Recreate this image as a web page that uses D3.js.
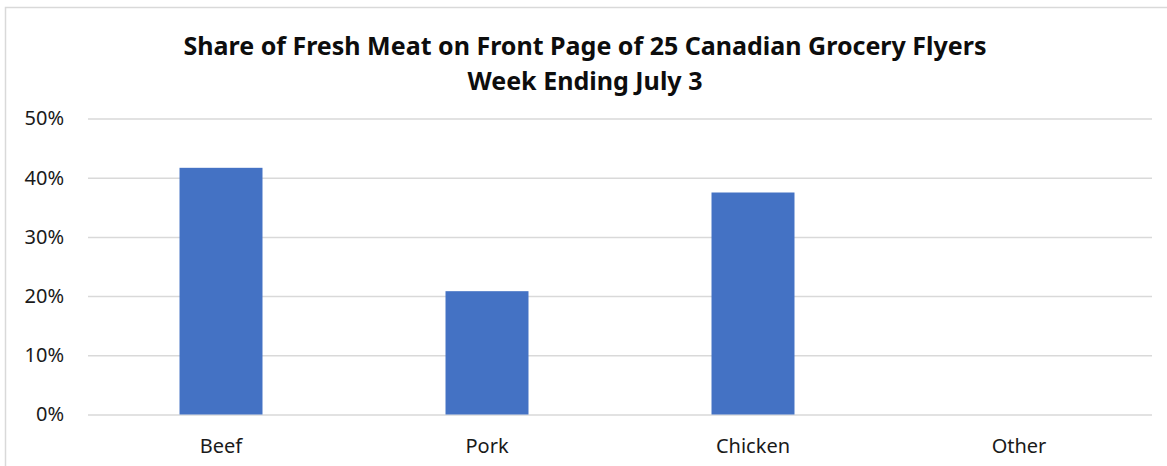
<!DOCTYPE html>
<html>
<head>
<meta charset="utf-8">
<script src="https://cdn.jsdelivr.net/npm/d3@7"></script>
<style>
  body { margin: 0; background: #fff; }
  svg { display: block; font-family: "Noto Sans", "Open Sans", sans-serif; }
</style>
</head>
<body>
<div id="chart"></div>
<script>
// data
const categories = ["Beef", "Pork", "Chicken", "Other"];
const shares = [0.4167, 0.2083, 0.375, 0];
const yTicks = [0, 0.1, 0.2, 0.3, 0.4, 0.5];
const titleLines = ["Share of Fresh Meat on Front Page of 25 Canadian Grocery Flyers", "Week Ending July 3"];

let width = 1167;
let height = 466;
let margin = { top: 118.5, left: 88, bottom: 51.5, right: 15 };
let iwidth = width - margin.left - margin.right;
let iheight = height - margin.top - margin.bottom;

let svg = d3.select("#chart").append("svg")
    .attr("width", width)
    .attr("height", height);

// chart frame (runs off the right/bottom of the window)
svg.append("rect")
    .attr("x", 5.5).attr("y", 7.5)
    .attr("width", 1300).attr("height", 600)
    .attr("fill", "none")
    .attr("stroke", "#d9d9d9")
    .attr("stroke-width", 1.5);

let g = svg.append("g").attr("transform", `translate(${margin.left},${margin.top})`);

let y = d3.scaleLinear()
    .domain([0, 0.5])
    .range([iheight, 0]);

let x = d3.scaleBand()
    .domain(categories)
    .range([0, iwidth])
    .paddingInner(0.688)
    .paddingOuter(0.344);

// gridlines
g.append("g")
    .classed("grid", true)
    .call(d3.axisLeft(y).tickValues(yTicks).tickSize(-iwidth).tickFormat(""))
    .call(a => a.select(".domain").remove())
    .selectAll("line")
    .attr("stroke", "#d9d9d9")
    .attr("stroke-width", 1.5);

// y axis labels
g.append("g")
    .classed("y--axis", true)
    .call(d3.axisLeft(y).tickValues(yTicks).tickSize(0).tickPadding(24).tickFormat(d3.format(".0%")))
    .call(a => a.select(".domain").remove())
    .selectAll("text")
    .style("font-size", "20px")
    .style("font-family", "'Noto Sans', sans-serif")
    .attr("fill", "#1a1a1a");

// bars
g.selectAll("rect.bar").data(shares)
    .enter().append("rect")
    .attr("class", "bar")
    .style("fill", "#4472c4")
    .attr("x", (d, i) => x(categories[i]))
    .attr("y", d => y(d))
    .attr("height", d => iheight - y(d))
    .attr("width", x.bandwidth());

// x axis labels
g.append("g")
    .classed("x--axis", true)
    .attr("transform", `translate(0, ${iheight})`)
    .call(d3.axisBottom(x).tickSize(0).tickPadding(24))
    .call(a => a.select(".domain").remove())
    .selectAll("text")
    .style("font-size", "20px")
    .style("font-family", "'Noto Sans', sans-serif")
    .attr("fill", "#1a1a1a");

// title
const titleY = [55, 90];
const titleW = [803, 235];
titleLines.forEach((t, i) => {
    const txt = svg.append("text")
        .attr("x", 585)
        .attr("y", titleY[i])
        .attr("text-anchor", "middle")
        .style("font-size", "25px")
        .style("font-weight", "bold")
        .attr("fill", "#0d0d0d")
        .text(t);
    const w = txt.node().getComputedTextLength();
    txt.style("font-size", (25 * titleW[i] / w).toFixed(2) + "px");
});
</script>
</body>
</html>
